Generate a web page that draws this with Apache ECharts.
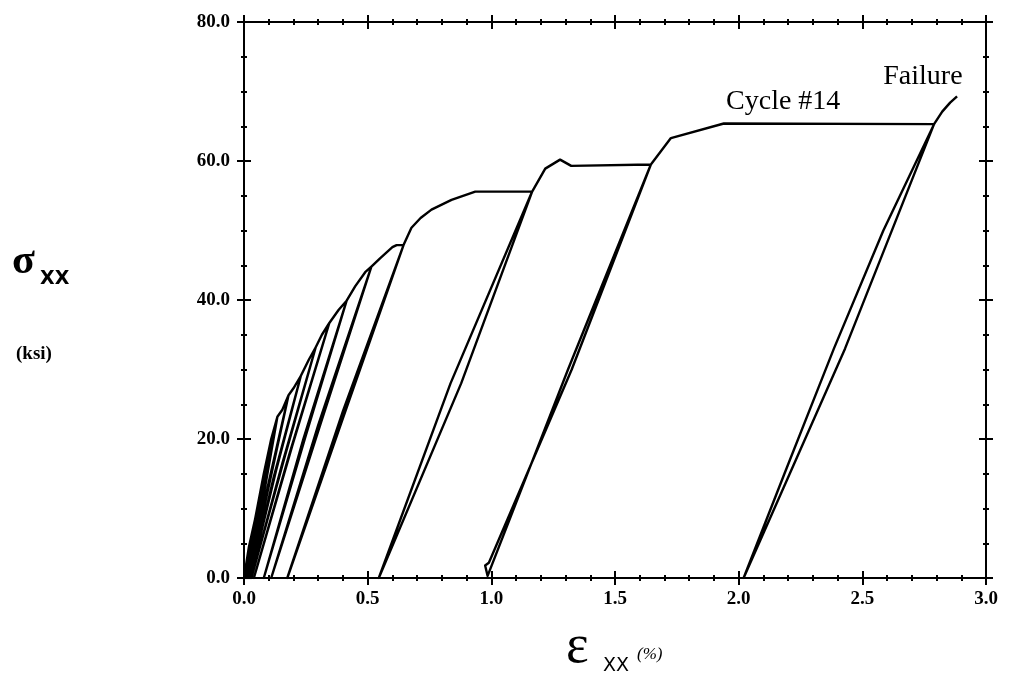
<!DOCTYPE html>
<html>
<head>
<meta charset="utf-8">
<script src="https://cdn.jsdelivr.net/npm/echarts@6/dist/echarts.min.js"></script>
<style>
  html, body { margin: 0; padding: 0; background: #fff; }
  #chart { width: 1013px; height: 677px; }
</style>
</head>
<body>
<div id="chart"></div>
<script>
// Stress-strain record of the cyclic tension test: one continuous path,
// loading along the envelope, unloading to the residual strain, reloading.
const strainPath = [
  0.000, 0.020, 0.045, 0.025, 0.000, 0.020, 0.045,
  0.080, 0.040, 0.005, 0.045, 0.080,
  0.110, 0.055, 0.010, 0.060, 0.110,
  0.135, 0.070, 0.015, 0.080, 0.135,
  0.155, 0.180, 0.095, 0.020, 0.105, 0.180,
  0.200, 0.230, 0.120, 0.025, 0.130, 0.230,
  0.262, 0.290, 0.155, 0.030, 0.165, 0.290,
  0.315, 0.345, 0.185, 0.040, 0.195, 0.345,
  0.383, 0.415, 0.240, 0.080, 0.250, 0.415,
  0.450, 0.490, 0.515, 0.300, 0.110, 0.315, 0.515,
  0.550, 0.600, 0.617, 0.645, 0.400, 0.175, 0.415, 0.645,
  0.677, 0.714, 0.758, 0.839, 0.935, 1.165, 0.835, 0.545, 0.878, 1.165,
  1.218, 1.278, 1.323, 1.645, 1.310, 0.985, 0.975, 0.990, 1.325, 1.645,
  1.726, 1.940, 2.790, 2.585, 2.385, 2.185, 2.020, 2.430, 2.790,
  2.823, 2.855, 2.883
];
const stressPath = [
  0.0, 4.0, 8.5, 4.0, 0.0, 4.5, 8.5,
  15.0, 7.0, 0.0, 7.5, 15.0,
  20.0, 9.5, 0.0, 10.5, 20.0,
  23.2, 11.0, 0.0, 12.0, 23.2,
  24.2, 26.3, 13.0, 0.0, 14.0, 26.3,
  27.3, 29.1, 14.5, 0.0, 15.5, 29.1,
  31.4, 33.2, 16.5, 0.0, 17.5, 33.2,
  35.0, 36.7, 18.0, 0.0, 19.0, 36.7,
  38.6, 39.9, 20.0, 0.0, 20.5, 39.9,
  42.0, 44.0, 44.8, 22.0, 0.0, 22.8, 44.8,
  46.0, 47.6, 47.9, 47.9, 24.0, 0.0, 24.5, 47.9,
  50.4, 51.8, 53.0, 54.4, 55.6, 55.6, 28.0, 0.0, 28.0, 55.6,
  58.9, 60.2, 59.3, 59.5, 30.0, 0.3, 1.8, 2.2, 30.0, 59.5,
  63.3, 65.4, 65.3, 50.0, 33.0, 15.0, 0.0, 33.0, 65.3,
  67.1, 68.4, 69.3
];

// Text notes placed in data coordinates
const noteText   = ['Cycle #14', 'Failure'];
const noteStrain = [2.18, 2.745];
const noteStress = [68.6, 72.2];

// Axis ranges and tick spacing
const xMin = 0, xMax = 3, xStep = 0.5;
const yMin = 0, yMax = 80, yStep = 20;

const pathData = strainPath.map((s, i) => [s, stressPath[i]]);
const noteData = noteText.map((t, i) => ({ name: t, value: [noteStrain[i], noteStress[i]] }));

const INK = '#000';
const labelFont = {
  color: INK, fontFamily: 'Liberation Serif', fontWeight: 'bold', fontSize: 19
};

function makeX(position, inside, showLabel) {
  return {
    type: 'value', min: xMin, max: xMax, interval: xStep, position: position,
    axisLine: { show: true, onZero: false, lineStyle: { color: INK, width: 2 } },
    axisTick: { show: true, inside: inside, length: 7, lineStyle: { color: INK, width: 2 } },
    minorTick: { show: true, splitNumber: 5, length: 3, lineStyle: { color: INK, width: 2 } },
    axisLabel: Object.assign({ show: showLabel, margin: 12, formatter: v => v.toFixed(1) }, labelFont),
    splitLine: { show: false }
  };
}
function makeY(position, inside, showLabel) {
  return {
    type: 'value', min: yMin, max: yMax, interval: yStep, position: position,
    axisLine: { show: true, onZero: false, lineStyle: { color: INK, width: 2 } },
    axisTick: { show: true, inside: inside, length: 7, lineStyle: { color: INK, width: 2 } },
    minorTick: { show: true, splitNumber: 4, length: 3, lineStyle: { color: INK, width: 2 } },
    axisLabel: Object.assign({ show: showLabel, margin: 14, formatter: v => v.toFixed(1) }, labelFont),
    splitLine: { show: false }
  };
}

const chart = echarts.init(document.getElementById('chart'), null, { renderer: 'canvas' });
chart.setOption({
  backgroundColor: '#fff',
  animation: false,
  grid: { left: 244, right: 27, top: 22, bottom: 99, containLabel: false },
  title: [
    { text: 'σ', left: 7, top: 236,
      textStyle: { fontFamily: 'Liberation Serif', fontWeight: 'bold', fontSize: 42, color: INK } },
    { text: 'XX', left: 35, top: 265,
      textStyle: { fontFamily: 'DejaVu Sans', fontWeight: 'bold', fontSize: 19, color: INK } },
    { text: '(ksi)', left: 11, top: 340,
      textStyle: { fontFamily: 'Liberation Serif', fontWeight: 'bold', fontSize: 19, color: INK } },
    { text: 'ε', left: 561, top: 616,
      textStyle: { fontFamily: 'Liberation Serif', fontWeight: 'normal', fontSize: 54, color: INK } },
    { text: 'XX', left: 598, top: 652,
      textStyle: { fontFamily: 'DejaVu Sans', fontWeight: 'normal', fontSize: 19, color: INK } },
    { text: '(%)', left: 632, top: 641,
      textStyle: { fontFamily: 'Liberation Serif', fontStyle: 'italic', fontWeight: 'normal', fontSize: 17, color: INK } }
  ],
  xAxis: [
    makeX('bottom', false, true),
    makeX('bottom', true, false),
    makeX('top', false, false),
    makeX('top', true, false)
  ],
  yAxis: [
    makeY('left', false, true),
    makeY('left', true, false),
    makeY('right', false, false),
    makeY('right', true, false)
  ],
  series: [
    {
      name: 'Stress-strain', type: 'line', xAxisIndex: 0, yAxisIndex: 0,
      data: pathData, showSymbol: false, symbol: 'none', smooth: false,
      lineStyle: { color: INK, width: 2.4, join: 'round' }
    },
    {
      name: 'Notes', type: 'scatter', xAxisIndex: 0, yAxisIndex: 0,
      data: noteData, symbolSize: 0, itemStyle: { opacity: 1 },
      label: {
        show: true, position: 'inside', formatter: p => p.name, opacity: 1,
        fontFamily: 'Liberation Serif', fontSize: 28, color: INK
      }
    }
  ]
});
</script>
</body>
</html>
